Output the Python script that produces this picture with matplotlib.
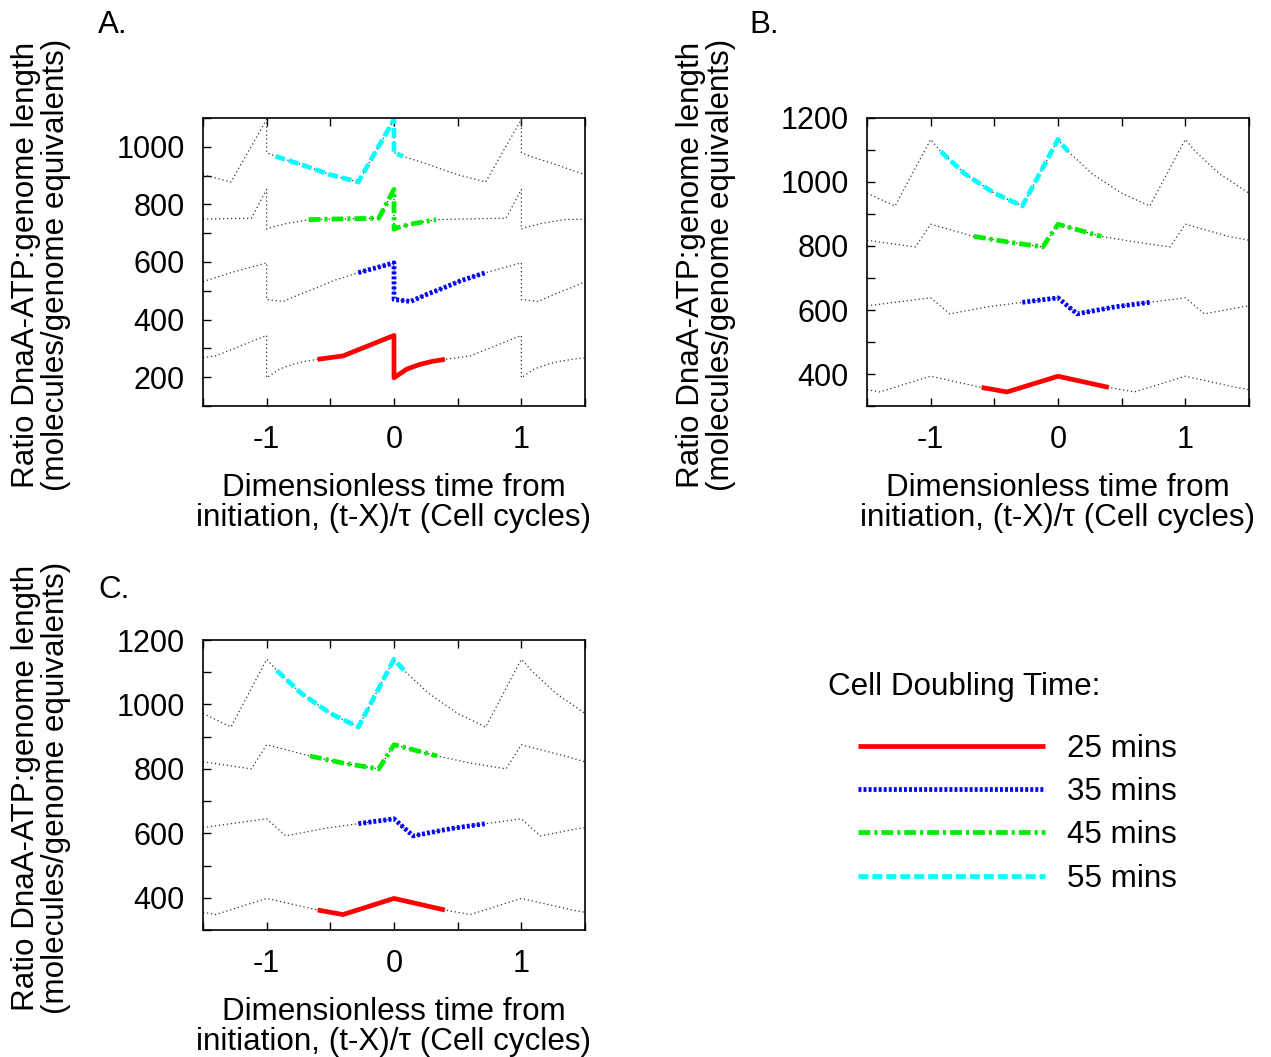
import matplotlib
matplotlib.use("Agg")
import matplotlib.pyplot as plt
from matplotlib.ticker import MultipleLocator

plt.rcParams['font.family'] = ['Liberation Sans', 'DejaVu Sans']
plt.rcParams['axes.unicode_minus'] = False

# ---------------- data ----------------
labels = ["25 mins", "35 mins", "45 mins", "55 mins"]
colors = ["#ff0000", "#0000ff", "#00ee00", "#00ffff"]

# Panel A
A_bg_25_x = [-1.5, -1.4, -1.0, -1.0, -0.95, -0.9, -0.8, -0.7, -0.6, -0.4, 0.0, 0.0, 0.05, 0.1, 0.2, 0.3, 0.4, 0.6, 1.0, 1.0, 1.05, 1.1, 1.2, 1.3, 1.4, 1.5]
A_bg_25_y = [268, 274, 345, 198, 213, 228, 244, 255, 262, 274, 345, 198, 213, 228, 244, 255, 262, 274, 345, 198, 213, 228, 244, 255, 262, 268]
A_25_x = [-0.6, -0.4, 0.0, 0.0, 0.05, 0.1, 0.2, 0.3, 0.4]
A_25_y = [262, 274, 345, 198, 213, 228, 244, 255, 262]

A_bg_35_x = [-1.5, -1.28, -1.0, -1.0, -0.87, -0.74, -0.6, -0.47, -0.28, 0.0, 0.0, 0.13, 0.26, 0.4, 0.53, 0.72, 1.0, 1.0, 1.13, 1.26, 1.4, 1.5]
A_bg_35_y = [532, 563, 597, 470, 463, 488, 512, 536, 563, 597, 470, 463, 488, 512, 536, 563, 597, 470, 463, 488, 512, 532]
A_35_x = [-0.28, 0.0, 0.0, 0.13, 0.26, 0.4, 0.53, 0.72]
A_35_y = [563, 597, 470, 463, 488, 512, 536, 563]

A_bg_45_x = [-1.5, -1.12, -1.0, -1.0, -0.96, -0.84, -0.67, -0.5, -0.12, 0.0, 0.0, 0.04, 0.16, 0.33, 0.5, 0.88, 1.0, 1.0, 1.04, 1.16, 1.33, 1.5]
A_bg_45_y = [749, 752, 852, 714, 721, 734, 747, 749, 752, 852, 714, 721, 734, 747, 749, 752, 852, 714, 721, 734, 747, 749]
A_45_x = [-0.67, -0.5, -0.12, 0.0, 0.0, 0.04, 0.16, 0.33]
A_45_y = [747, 749, 752, 852, 714, 721, 734, 747]

A_bg_55_x = [-1.5, -1.28, -1.0, -1.0, -0.93, -0.74, -0.5, -0.28, 0.0, 0.0, 0.07, 0.26, 0.5, 0.72, 1.0, 1.0, 1.07, 1.26, 1.5]
A_bg_55_y = [903, 878, 1095, 980, 967, 940, 903, 878, 1095, 980, 967, 940, 903, 878, 1095, 980, 967, 940, 903]
A_55_x = [-0.93, -0.74, -0.5, -0.28, 0.0, 0.0, 0.07]
A_55_y = [967, 940, 903, 878, 1095, 980, 967]

# Panel B
B_bg_25_x = [-1.5, -1.4, -1.0, -0.6, -0.4, 0.0, 0.4, 0.6, 1.0, 1.4, 1.5]
B_bg_25_y = [351, 344, 393, 358, 344, 393, 358, 344, 393, 358, 351]
B_25_x = [-0.6, -0.4, 0.0, 0.4]
B_25_y = [358, 344, 393, 358]

B_bg_35_x = [-1.5, -1.28, -1.0, -0.85, -0.55, -0.28, 0.0, 0.15, 0.45, 0.72, 1.0, 1.15, 1.45, 1.5]
B_bg_35_y = [613, 624, 638, 588, 610, 624, 638, 588, 610, 624, 638, 588, 610, 613]
B_35_x = [-0.28, 0.0, 0.15, 0.45, 0.72]
B_35_y = [624, 638, 588, 610, 624]

B_bg_45_x = [-1.5, -1.12, -1.0, -0.66, -0.4, -0.12, 0.0, 0.34, 0.6, 0.88, 1.0, 1.34, 1.5]
B_bg_45_y = [818, 797, 868, 830, 813, 797, 868, 830, 813, 797, 868, 830, 818]
B_45_x = [-0.66, -0.4, -0.12, 0.0, 0.34]
B_45_y = [830, 813, 797, 868, 830]

B_bg_55_x = [-1.5, -1.28, -1.0, -0.92, -0.73, -0.5, -0.28, 0.0, 0.08, 0.27, 0.5, 0.72, 1.0, 1.08, 1.27, 1.5]
B_bg_55_y = [965, 925, 1133, 1095, 1025, 965, 925, 1133, 1095, 1025, 965, 925, 1133, 1095, 1025, 965]
B_55_x = [-0.92, -0.73, -0.5, -0.28, 0.0, 0.08]
B_55_y = [1095, 1025, 965, 925, 1133, 1095]

# Panel C
C_bg_25_x = [-1.5, -1.4, -1.0, -0.6, -0.4, 0.0, 0.4, 0.6, 1.0, 1.4, 1.5]
C_bg_25_y = [355, 348, 398, 362, 348, 398, 362, 348, 398, 362, 355]
C_25_x = [-0.6, -0.4, 0.0, 0.4]
C_25_y = [362, 348, 398, 362]

C_bg_35_x = [-1.5, -1.28, -1.0, -0.85, -0.55, -0.28, 0.0, 0.15, 0.45, 0.72, 1.0, 1.15, 1.45, 1.5]
C_bg_35_y = [618, 630, 645, 592, 615, 630, 645, 592, 615, 630, 645, 592, 615, 618]
C_35_x = [-0.28, 0.0, 0.15, 0.45, 0.72]
C_35_y = [630, 645, 592, 615, 630]

C_bg_45_x = [-1.5, -1.12, -1.0, -0.66, -0.4, -0.12, 0.0, 0.34, 0.6, 0.88, 1.0, 1.34, 1.5]
C_bg_45_y = [822, 800, 875, 840, 818, 800, 875, 840, 818, 800, 875, 840, 822]
C_45_x = [-0.66, -0.4, -0.12, 0.0, 0.34]
C_45_y = [840, 818, 800, 875, 840]

C_bg_55_x = [-1.5, -1.28, -1.0, -0.92, -0.73, -0.5, -0.28, 0.0, 0.08, 0.27, 0.5, 0.72, 1.0, 1.08, 1.27, 1.5]
C_bg_55_y = [972, 930, 1140, 1105, 1035, 972, 930, 1140, 1105, 1035, 972, 930, 1140, 1105, 1035, 972]
C_55_x = [-0.92, -0.73, -0.5, -0.28, 0.0, 0.08]
C_55_y = [1105, 1035, 972, 930, 1140, 1105]

x_ticks = [-1, 0, 1]
A_ylim = (100, 1100)
B_ylim = (300, 1200)
C_ylim = (300, 1200)

panels = {
    "A.": dict(ylim=A_ylim,
               bg=[(A_bg_25_x, A_bg_25_y), (A_bg_35_x, A_bg_35_y), (A_bg_45_x, A_bg_45_y), (A_bg_55_x, A_bg_55_y)],
               fg=[(A_25_x, A_25_y), (A_35_x, A_35_y), (A_45_x, A_45_y), (A_55_x, A_55_y)]),
    "B.": dict(ylim=B_ylim,
               bg=[(B_bg_25_x, B_bg_25_y), (B_bg_35_x, B_bg_35_y), (B_bg_45_x, B_bg_45_y), (B_bg_55_x, B_bg_55_y)],
               fg=[(B_25_x, B_25_y), (B_35_x, B_35_y), (B_45_x, B_45_y), (B_55_x, B_55_y)]),
    "C.": dict(ylim=C_ylim,
               bg=[(C_bg_25_x, C_bg_25_y), (C_bg_35_x, C_bg_35_y), (C_bg_45_x, C_bg_45_y), (C_bg_55_x, C_bg_55_y)],
               fg=[(C_25_x, C_25_y), (C_35_x, C_35_y), (C_45_x, C_45_y), (C_55_x, C_55_y)]),
}

# ---------------- layout ----------------
W, H = 1271, 1057
fig = plt.figure(figsize=(W / 100, H / 100), dpi=100)

def frac_box(l, t, r, b):
    return [l / W, 1 - b / H, (r - l) / W, (b - t) / H]

boxes = {"A.": (203, 118, 585, 406), "B.": (867, 118, 1249, 406), "C.": (203, 640, 585, 930)}
letter_pos = {"A.": (98, 33), "B.": (749, 33), "C.": (98, 598)}
ylab_x = {"A.": 41, "B.": 706, "C.": 41}

FS = 22
LFS = 22.6
LW = 3.4
styles = [dict(linestyle='-'),
          dict(dashes=(0.62, 0.45)),
          dict(dashes=(2.5, 0.85, 0.65, 0.85)),
          dict(dashes=(2.1, 0.85))]

legend_handles = []
for name, p in panels.items():
    l, t, r, b = boxes[name]
    ax = fig.add_axes(frac_box(l, t, r, b))
    for (bx, by) in p["bg"]:
        ax.plot(bx, by, color='#333333', lw=0.9, dashes=(1.0, 2.2))
    for i, (fx, fy) in enumerate(p["fg"]):
        ln, = ax.plot(fx, fy, color=colors[i], lw=LW, label=labels[i],
                      dash_capstyle='butt', solid_capstyle='butt', **styles[i])
        if name == "A.":
            legend_handles.append(ln)
    ax.set_xlim(-1.5, 1.5)
    ax.set_ylim(*p["ylim"])
    ax.set_xticks(x_ticks)
    ax.xaxis.set_minor_locator(MultipleLocator(0.5))
    ax.yaxis.set_major_locator(MultipleLocator(200))
    ax.yaxis.set_minor_locator(MultipleLocator(100))
    ax.tick_params(which='both', direction='in', length=6, width=1.0,
                   top=True, bottom=True, left=True, right=False, labelsize=FS)
    ax.tick_params(axis='y', which='both', pad=13)
    ax.tick_params(axis='x', which='both', pad=14)
    for s in ax.spines.values():
        s.set_linewidth(1.2)
    # x label
    cx = (l + r) / 2
    fig.text(cx / W, 1 - (b + 97) / H,
             "Dimensionless time from\ninitiation, (t-X)/\u03c4 (Cell cycles)",
             ha='center', va='center', fontsize=LFS, linespacing=1.0)
    # y label
    cy = (t + b) / 2 + 3
    fig.text(ylab_x[name] / W, 1 - cy / H,
             "Ratio DnaA-ATP:genome length\n(molecules/genome equivalents)",
             ha='center', va='center', rotation=90, fontsize=LFS, linespacing=1.0)
    lx, ly = letter_pos[name]
    fig.text(lx / W, 1 - ly / H, name, ha='left', va='baseline', fontsize=LFS)

fig.text(828 / W, 1 - 695 / H, "Cell Doubling Time:", ha='left', va='baseline', fontsize=LFS)
fig.legend(handles=legend_handles, labels=labels, loc='upper left',
           bbox_to_anchor=(858 / W, 1 - 734 / H), frameon=False, fontsize=LFS,
           handlelength=5.95, handletextpad=0.72, labelspacing=0.42,
           borderpad=0, borderaxespad=0)

fig.savefig("out.png", dpi=100)
